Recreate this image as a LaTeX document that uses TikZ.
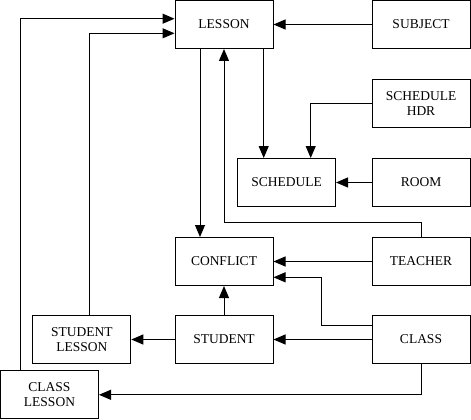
\documentclass[tikz,border=0pt]{standalone}
\usepackage{fontspec}
\setmainfont{Liberation Serif}
\usepackage{xcolor}
\definecolor{diaLine}{HTML}{000000}
\definecolor{diaFill}{HTML}{FFFFFF}
\usepackage{tikz}
\usetikzlibrary{arrows.meta,positioning,calc}
\tikzset{
    entity/.style={
        draw=diaLine,
        fill=diaFill,
        rectangle,
        align=center,
        minimum height=48pt,
        minimum width=98pt,
        inner sep=0pt,
        line width=1pt,
        font=\fontsize{13.5}{15.5}\selectfont
    },
    link/.style={
        -{Triangle[length=12pt,width=10pt]},
        line width=1pt,
        color=diaLine
    }
}
\begin{document}
\begin{tikzpicture}[x=1pt,y=-1pt]
    \useasboundingbox (0,0) rectangle (471,420);

    % Entities
    \node[entity] (lesson) at (224,24.5) {LESSON};
    \node[entity] (subject) at (421,24.5) {SUBJECT};
    \node[entity] (schedhdr) at (421,103.5) {SCHEDULE\\HDR};
    \node[entity] (schedule) at (286.5,182.5) {SCHEDULE};
    \node[entity] (room) at (421,182.5) {ROOM};
    \node[entity] (conflict) at (224,261.5) {CONFLICT};
    \node[entity] (teacher) at (421,261.5) {TEACHER};
    \node[entity] (stulesson) at (81.8,339.5) {STUDENT\\LESSON};
    \node[entity] (student) at (224,339.5) {STUDENT};
    \node[entity] (class) at (421,339.5) {CLASS};
    \node[entity] (clslesson) at (49.5,394.8) {CLASS\\LESSON};

    % Links into LESSON
    \draw[link] ([xshift=-29.5pt]clslesson.north) |- ([yshift=5.8pt]lesson.west);
    \draw[link] ([xshift=7.5pt]stulesson.north) |- ([yshift=-8.8pt]lesson.west);
    \draw[link] (subject.west) -- (lesson.east);
    \draw[link] (teacher.north) -- ++(0,-15) -| (lesson.south);

    % Links into SCHEDULE
    \draw[link] ([xshift=39.7pt]lesson.south) -- ([xshift=39.7pt]lesson.south |- schedule.north);
    \draw[link] (schedhdr.west) -| ([xshift=24.2pt]schedule.north);
    \draw[link] (room.west) -- (schedule.east);

    % Links into CONFLICT
    \draw[link] ([xshift=-24pt]lesson.south) -- ([xshift=-24pt]conflict.north);
    \draw[link] (teacher.west) -- (conflict.east);
    \draw[link] ([yshift=14.2pt]class.west) -- ++(-50.3,0) |- ([yshift=-15.8pt]conflict.east);
    \draw[link] (student.north) -- (conflict.south);

    % Remaining links
    \draw[link] (student.west) -- (stulesson.east);
    \draw[link] (class.west) -- (student.east);
    \draw[link] (class.south) |- (clslesson.east);
\end{tikzpicture}
\end{document}
